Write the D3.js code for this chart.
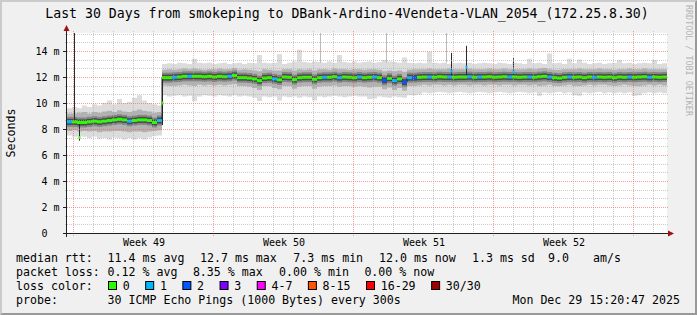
<!DOCTYPE html>
<html>
<head>
<meta charset="utf-8">
<script src="https://cdn.jsdelivr.net/npm/d3@7"></script>
<style>
  html, body { margin: 0; padding: 0; background: #f0f0f0; }
  svg { display: block; }
  text { font-family: "DejaVu Sans Mono", monospace; fill: #000; }
</style>
</head>
<body>
<svg id="chart" width="697" height="315"></svg>
<script>
// one value every 6 hours over the last 30 days (ms)
const median = [
  8.55, 8.55, 8.5, 8.5, 8.55, 8.6, 8.55, 8.6, 8.65, 8.7, 8.75, 8.7, 8.6, 8.65, 8.7, 8.7, 8.65, 8.5, 8.65,
  11.95, 11.95, 11.98, 12.0, 12.05, 12.05, 12.05, 12.05, 12.02, 12.05,
  12.0, 12.05, 12.02, 12.05, 12.12, 11.95, 11.95, 11.92, 11.85, 11.72,
  11.92, 11.95, 11.85, 11.78, 12.0, 11.98, 11.8, 11.95, 11.98, 11.98,
  11.82, 11.95, 11.98, 11.98, 12.02, 11.95, 12.0, 11.98, 11.95, 12.0,
  11.95, 11.98, 12.0, 11.95, 11.75, 11.9, 11.72, 11.85, 11.6, 11.95,
  11.95, 11.98, 12.0, 12.0, 11.98, 12.02, 12.0, 12.0, 11.98, 12.0,
  12.0, 12.02, 11.98, 12.0, 12.0, 12.02, 11.98, 12.0, 12.02, 12.0,
  12.0, 11.98, 12.0, 12.0, 11.98, 12.02, 12.05, 12.0, 11.95, 11.92,
  11.98, 12.0, 11.98, 12.0, 11.95, 12.0, 11.98, 12.0, 11.98, 12.0,
  11.95, 12.0, 11.98, 12.0, 11.98, 12.0, 12.02, 11.98, 12.0, 11.98, 12.0,
]
// lost pings out of 30
const loss = [
  1, 0, 0, 0, 0, 0, 0, 0, 0, 0, 0, 0, 1, 0, 0, 0, 0, 0, 1, 0,
  0, 1, 0, 0, 1, 0, 0, 0, 0, 0, 0, 0, 1, 0, 0, 0, 0, 0, 0, 0,
  0, 1, 0, 0, 0, 0, 0, 0, 0, 0, 0, 1, 0, 0, 1, 0, 0, 0, 1, 0,
  0, 1, 0, 2, 0, 1, 0, 2, 1, 2, 0, 0, 1, 0, 0, 0, 1, 0, 0, 0,
  1, 0, 1, 0, 0, 0, 0, 0, 1, 0, 0, 0, 1, 0, 0, 0, 1, 0, 0, 0,
  1, 0, 0, 0, 0, 1, 0, 0, 0, 0, 0, 0, 1, 0, 0, 0, 1, 0, 0, 0,
]
// smoke: fastest / slowest ping, and the inner band around the median
const smokeMin = [
  7.5, 7.4, 7.45, 7.4, 7.3, 7.4, 7.25, 7.3, 7.2, 7.35, 7.3, 7.2, 7.3, 7.2, 7.3, 7.2, 7.35, 7.45, 7.5,
  10.6, 10.5, 10.55, 10.6, 10.5, 10.55, 10.15, 10.5, 10.6, 10.55,
  10.5, 10.6, 10.55, 10.5, 10.6, 10.5, 10.55, 10.5, 10.4, 10.15,
  10.5, 10.45, 10.5, 10.2, 10.5, 10.45, 10.5, 10.4, 10.5, 10.45,
  10.2, 10.5, 10.45, 10.5, 10.55, 10.5, 10.45, 10.5, 10.55, 10.5,
  10.5, 10.3, 10.35, 10.5, 10.45, 10.4, 10.5, 10.45, 10.4, 10.6,
  10.6, 10.65, 10.8, 10.75, 10.8, 10.85, 10.8, 10.75, 10.8, 10.85,
  10.8, 10.75, 10.8, 10.85, 10.8, 10.75, 10.8, 10.85, 10.8, 10.75,
  10.8, 10.85, 10.8, 10.75, 10.8, 10.55, 10.8, 10.75, 10.8, 10.85,
  10.75, 10.8, 10.6, 10.55, 10.8, 10.75, 10.8, 10.85, 10.75, 10.8,
  10.75, 10.8, 10.75, 10.8, 10.55, 10.6, 10.75, 10.8, 10.75, 10.8, 10.75,
]
const smokeLo = [
  7.85, 7.9, 7.8, 7.85, 7.8, 7.85, 7.75, 7.8, 7.8, 7.85, 7.85, 7.8, 7.75, 7.8, 7.8, 7.75, 7.8, 7.85, 7.9,
  11.35, 11.3, 11.3, 11.35, 11.4, 11.35, 11.3, 11.4, 11.35, 11.4,
  11.35, 11.4, 11.35, 11.4, 11.45, 11.3, 11.3, 11.25, 11.15, 11.0,
  11.3, 11.3, 11.15, 11.05, 11.3, 11.3, 11.1, 11.25, 11.3, 11.3,
  11.1, 11.25, 11.3, 11.3, 11.35, 11.25, 11.3, 11.3, 11.25, 11.3,
  11.25, 11.2, 11.25, 11.25, 11.05, 11.2, 11.0, 11.15, 10.95, 11.3,
  11.3, 11.35, 11.4, 11.35, 11.4, 11.4, 11.35, 11.4, 11.35, 11.4,
  11.4, 11.35, 11.4, 11.4, 11.35, 11.4, 11.4, 11.35, 11.4, 11.4,
  11.35, 11.4, 11.4, 11.35, 11.4, 11.3, 11.35, 11.4, 11.3, 11.3,
  11.35, 11.4, 11.3, 11.3, 11.35, 11.4, 11.35, 11.4, 11.4, 11.35,
  11.3, 11.35, 11.4, 11.35, 11.3, 11.3, 11.35, 11.4, 11.35, 11.4, 11.35,
]
const smokeHi = [
  9.2, 9.2, 9.25, 9.3, 9.2, 9.3, 9.25, 9.35, 9.4, 9.3, 9.45, 9.35, 9.3, 9.4, 9.5, 9.4, 9.35, 9.25, 9.3,
  12.55, 12.6, 12.55, 12.6, 12.65, 12.6, 12.65, 12.6, 12.55, 12.6,
  12.6, 12.65, 12.6, 12.6, 12.7, 12.55, 12.6, 12.55, 12.5, 12.45,
  12.6, 12.55, 12.5, 12.5, 12.6, 12.6, 12.5, 12.6, 12.55, 12.6,
  12.5, 12.6, 12.6, 12.55, 12.65, 12.6, 12.6, 12.55, 12.6, 12.6,
  12.55, 12.6, 12.6, 12.55, 12.45, 12.5, 12.45, 12.5, 12.4, 12.55,
  12.6, 12.6, 12.6, 12.65, 12.6, 12.6, 12.6, 12.65, 12.6, 12.6,
  12.6, 12.65, 12.6, 12.6, 12.6, 12.65, 12.6, 12.6, 12.65, 12.6,
  12.6, 12.6, 12.6, 12.65, 12.6, 12.65, 12.7, 12.6, 12.55, 12.55,
  12.6, 12.6, 12.6, 12.65, 12.6, 12.6, 12.6, 12.65, 12.6, 12.6,
  12.55, 12.6, 12.6, 12.65, 12.6, 12.6, 12.65, 12.6, 12.6, 12.6, 12.6,
]
const smokeMax = [
  9.6, 9.7, 9.6, 9.8, 9.7, 9.9, 9.8, 10.0, 10.2, 9.9, 10.3, 10.0, 10.1, 10.4, 10.6, 10.2, 10.0, 9.9, 9.8,
  13.0, 13.05, 13.0, 13.1, 13.05, 13.0, 13.4, 13.1, 13.05, 13.1,
  13.0, 13.05, 13.1, 13.0, 13.05, 13.1, 13.0, 13.1, 13.05, 13.7,
  13.1, 13.05, 13.1, 13.75, 13.0, 13.1, 13.2, 14.1, 13.15, 13.1,
  13.2, 13.15, 13.1, 13.2, 13.1, 13.7, 13.15, 13.1, 13.2, 13.1,
  13.15, 13.2, 13.1, 13.15, 13.3, 13.2, 13.15, 13.1, 13.5, 13.1,
  13.05, 13.1, 13.05, 13.95, 13.1, 13.05, 13.1, 13.0, 13.05, 13.1,
  13.05, 13.1, 13.0, 13.05, 13.1, 13.05, 13.0, 13.1, 13.05, 13.0,
  13.1, 13.05, 13.0, 13.4, 13.05, 13.1, 13.0, 13.8, 13.05, 13.1,
  13.0, 13.4, 13.05, 13.35, 13.1, 13.0, 13.05, 13.1, 13.0, 13.05,
  13.1, 13.3, 13.05, 13.1, 13.0, 13.05, 13.1, 13.05, 13.3, 13.0, 13.05,
]
// single-sample columns with a wide spread (day, low ms, high ms, median ms, lost)
const spikes = [
  { day: 0.35, low: 8.5, high: 16, median: null, loss: 0 },
  { day: 0.6, low: 7.1, high: 8.6, median: 7.35, loss: 0 },
  { day: 4.75, low: 8.3, high: 12.0, median: 10.0, loss: 0 },
  { day: 19.2, low: 11.95, high: 13.85, median: 12.45, loss: 1 },
  { day: 19.95, low: 11.95, high: 14.4, median: 12.75, loss: 1 },
  { day: 22.3, low: 11.95, high: 13.45, median: 12.4, loss: 1 },
]
// slow single pings reaching the top of the graph
const outliers = [
  { day: 12.65, low: 13.1, high: 16 },
  { day: 15.95, low: 13.1, high: 16 },
  { day: 18.95, low: 13.1, high: 16 },
]

const weekStarts = [0.3, 7.3, 14.3, 21.3, 28.3]
const weekLabels = ['Week 49', 'Week 50', 'Week 51', 'Week 52']
const yTicks = [0, 2, 4, 6, 8, 10, 12, 14]
const yTickLabels = ['0  ', '2 m', '4 m', '6 m', '8 m', '10 m', '12 m', '14 m']

const lossRanges = [[0, 0], [1, 1], [2, 2], [3, 3], [4, 7], [8, 15], [16, 29], [30, 30]]
const lossLabels = ['0', '1', '2', '3', '4-7', '8-15', '16-29', '30/30']
const lossColors = ['#26ff00', '#00b8ff', '#0059ff', '#7e00ff', '#ff00ff', '#ff5500', '#ff0000', '#a00000']

const rttStats = ['11.4 ms avg', '12.7 ms max', '7.3 ms min', '12.0 ms now', '1.3 ms sd', '9.0', 'am/s']
const lossStats = ['0.12 % avg', '8.35 % max', '0.00 % min', '0.00 % now']
const title = 'Last 30 Days from smokeping to DBank-Ardino-4Vendeta-VLAN_2054_(172.25.8.30)'
const probe = '30 ICMP Echo Pings (1000 Bytes) every 300s'
const stamp = 'Mon Dec 29 15:20:47 2025'

const W = 697
const H = 315
const LEG = 11.6
const CH = LEG * 0.602

const svg = d3.select('#chart')
const x = d3.scaleLinear().domain([0, 30]).range([67, 667])
const y = d3.scaleLinear().domain([0, 200 / 13]).range([233, 33])
const px = v => Math.round(v) + 0.5
const lossColor = n => lossColors[lossRanges.findIndex(r => n >= r[0] && n <= r[1])]

// frame
svg.append('rect').attr('width', W).attr('height', H).attr('fill', '#f0f0f0')
svg.append('path').attr('d', `M0,0H${W}L${W - 2},2H2V${H - 2}L0,${H}Z`).attr('fill', '#cbcbcb')
svg.append('path').attr('d', `M${W},0V${H}H0L2,${H - 2}H${W - 2}V2Z`).attr('fill', '#999')
svg.append('rect').attr('x', 67).attr('y', 33).attr('width', 600).attr('height', 200).attr('fill', '#fff')

svg.append('clipPath').attr('id', 'plot')
  .append('rect').attr('x', 67).attr('y', 33).attr('width', 600).attr('height', 200)
const plot = svg.append('g').attr('clip-path', 'url(#plot)')

const STEP = 30 / median.length
const pts = median.map((m, i) => ({
  d: i * STEP, med: m, loss: loss[i],
  min: smokeMin[i], lo: smokeLo[i], hi: smokeHi[i], max: smokeMax[i],
}))
const stepPts = pts.concat([{ ...pts[pts.length - 1], d: 30 }])

const band = (a, b) => d3.area()
  .x(p => x(p.d)).y0(p => y(p[a])).y1(p => y(p[b]))
  .curve(d3.curveStepAfter)

plot.append('path').attr('d', band('min', 'max')(stepPts)).attr('fill', '#dcdcdc')
plot.append('path').attr('d', band('lo', 'hi')(stepPts)).attr('fill', '#b2b2b2')

plot.selectAll('.outlier').data(outliers).join('line')
  .attr('x1', d => px(x(d.day))).attr('x2', d => px(x(d.day)))
  .attr('y1', d => y(d.low)).attr('y2', d => y(d.high))
  .attr('stroke', '#bbb')

// dark core of the smoke around the median
const core = (half, fill) => plot.append('g').selectAll('rect').data(pts).join('rect')
  .attr('x', p => x(p.d)).attr('width', x(STEP) - x(0))
  .attr('y', p => y(p.med) - half).attr('height', half * 2)
  .attr('fill', fill)
core(5, '#858585')
core(3, '#4a4a4a')

plot.selectAll('.spike').data(spikes).join('line')
  .attr('x1', d => px(x(d.day))).attr('x2', d => px(x(d.day)))
  .attr('y1', d => y(d.low)).attr('y2', d => y(d.high))
  .attr('stroke', '#2a2a2a')

plot.append('path')
  .attr('d', d3.line().x(p => x(p.d)).y(p => y(p.med)).curve(d3.curveStepAfter)(stepPts))
  .attr('fill', 'none').attr('stroke', '#202020')

plot.selectAll('.med').data(pts).join('rect')
  .attr('x', p => x(p.d)).attr('width', x(STEP) - x(0))
  .attr('y', p => y(p.med) - 1.5).attr('height', 3)
  .attr('fill', p => lossColor(p.loss))

plot.selectAll('.tip').data(spikes.filter(s => s.median !== null)).join('rect')
  .attr('x', d => Math.round(x(d.day)) - 0.5).attr('width', 2)
  .attr('y', d => y(d.median) - 1.5).attr('height', 3)
  .attr('fill', d => lossColor(d.loss))

// grid on top, rrdtool style dotted lines
const grid = svg.append('g').attr('stroke-dasharray', '1,1')
const minorY = d3.range(0, 200 / 13, 2 / 3).filter(v => Math.abs(v / 2 - Math.round(v / 2)) > 0.01)
grid.selectAll('.gy').data(minorY).join('line')
  .attr('x1', 65).attr('x2', 669).attr('y1', v => px(y(v))).attr('y2', v => px(y(v)))
  .attr('stroke', 'rgba(170,170,170,0.6)')
const days = d3.range(weekStarts[0], 30, 1).filter(d => !weekStarts.some(w => Math.abs(w - d) < 0.01))
grid.selectAll('.gx').data(days).join('line')
  .attr('x1', d => px(x(d))).attr('x2', d => px(x(d))).attr('y1', 31).attr('y2', 235)
  .attr('stroke', 'rgba(170,170,170,0.6)')
grid.selectAll('.my').data(yTicks.slice(1)).join('line')
  .attr('x1', 65).attr('x2', 669).attr('y1', v => px(y(v))).attr('y2', v => px(y(v)))
  .attr('stroke', 'rgba(240,90,90,0.6)')
grid.selectAll('.mx').data(weekStarts).join('line')
  .attr('x1', d => px(x(d))).attr('x2', d => px(x(d))).attr('y1', 31).attr('y2', 237)
  .attr('stroke', 'rgba(240,90,90,0.6)')

// axes
svg.append('line').attr('x1', 63).attr('x2', 670).attr('y1', 233.5).attr('y2', 233.5).attr('stroke', '#202020')
svg.append('line').attr('x1', 66.5).attr('x2', 66.5).attr('y1', 237).attr('y2', 29).attr('stroke', '#202020')
svg.append('path').attr('d', 'M668,230.5L674,233.5L668,236.5Z').attr('fill', '#a01010')
svg.append('path').attr('d', 'M63.5,31L66.5,25L69.5,31Z').attr('fill', '#a01010')
svg.selectAll('.ytick').data(yTicks).join('line')
  .attr('x1', 63).attr('x2', 67).attr('y1', v => px(y(v))).attr('y2', v => px(y(v)))
  .attr('stroke', '#202020')

svg.selectAll('.ylab').data(yTicks).join('text')
  .attr('x', 59.5).attr('y', v => y(v) + 3.5)
  .attr('text-anchor', 'end').style('white-space', 'pre').attr('font-size', 10)
  .text((v, i) => yTickLabels[i])
svg.selectAll('.xlab').data(weekLabels).join('text')
  .attr('x', (t, i) => x((weekStarts[i] + weekStarts[i + 1]) / 2) + 1).attr('y', 246)
  .attr('text-anchor', 'middle').style('white-space', 'pre').attr('font-size', 10)
  .text(t => t)

svg.append('text').attr('transform', 'translate(15,133) rotate(-90)')
  .attr('text-anchor', 'middle').attr('font-size', LEG).text('Seconds')
svg.append('text').attr('x', 347).attr('y', 18)
  .attr('text-anchor', 'middle').style('white-space', 'pre').attr('font-size', 13.2).text(title)
svg.append('text').attr('transform', 'translate(685.5,5) rotate(90)')
  .attr('font-size', 8.4).style('fill', '#b4b4b4').text('RRDTOOL / TOBI OETIKER')

// legend
const rows = [262, 276, 290, 304]
const leg = (t, lx, ly, anchor) => svg.append('text').attr('x', lx).attr('y', ly)
  .attr('font-size', LEG).style('white-space', 'pre').attr('text-anchor', anchor || 'start').text(t)

leg('median rtt:', 16, rows[0])
const rttX = [107.6, 200, 293.3, 379, 472, 548, 593]
rttStats.forEach((t, i) => leg(t, rttX[i], rows[0]))

leg('packet loss:', 16, rows[1])
const lossX = [107.6, 192.9, 279.1, 364.4]
lossStats.forEach((t, i) => leg(t, lossX[i], rows[1]))

leg('loss color:', 16, rows[2])
let cx = 108
lossLabels.forEach((t, i) => {
  svg.append('rect').attr('x', cx + 0.5).attr('y', rows[2] - 8.5).attr('width', 8).attr('height', 8)
    .attr('fill', lossColors[i]).attr('stroke', '#000')
  leg(t, cx + 14.7, rows[2])
  cx += 14.7 + t.length * CH + 15.5
})

leg('probe:', 16, rows[3])
leg(probe, 107.6, rows[3])
leg(stamp, 680, rows[3], 'end')
</script>
</body>
</html>
